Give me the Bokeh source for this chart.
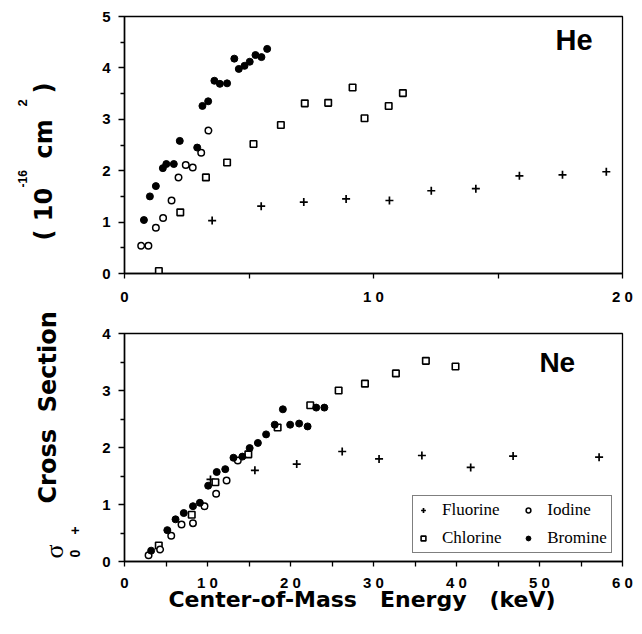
import math
from bokeh.plotting import figure
from bokeh.models import Range1d, FixedTicker, Legend, LegendItem, Label
from bokeh.layouts import row, column
from bokeh.embed import file_html
from bokeh.resources import INLINE
from bokeh.core.properties import value

# ---------------- data: He target ----------------
he_f_x = [3.52, 5.49, 7.20, 8.90, 10.64, 12.32, 14.11, 15.86, 17.59, 19.35]
he_f_y = [1.03, 1.31, 1.39, 1.45, 1.42, 1.61, 1.65, 1.90, 1.92, 1.98]
he_cl_x = [1.38, 2.24, 3.27, 4.12, 5.18, 6.28, 7.24, 8.18, 9.16, 9.64, 10.61, 11.18]
he_cl_y = [0.05, 1.19, 1.87, 2.16, 2.52, 2.89, 3.31, 3.32, 3.62, 3.02, 3.26, 3.51]
he_i_x = [0.67, 0.96, 1.26, 1.55, 1.89, 2.17, 2.46, 2.74, 3.08, 3.37]
he_i_y = [0.54, 0.54, 0.89, 1.08, 1.42, 1.87, 2.11, 2.06, 2.35, 2.78]
he_br_x = [0.78, 1.02, 1.26, 1.54, 1.68, 1.98, 2.22, 2.92, 3.13, 3.36, 3.61, 3.83,
           4.12, 4.41, 4.59, 4.82, 5.03, 5.26, 5.50, 5.73]
he_br_y = [1.04, 1.50, 1.70, 2.05, 2.13, 2.13, 2.58, 2.45, 3.26, 3.35, 3.75, 3.69,
           3.70, 4.18, 3.98, 4.04, 4.12, 4.25, 4.21, 4.37]

# ---------------- data: Ne target ----------------
ne_f_x = [10.36, 15.71, 20.75, 26.23, 30.67, 35.83, 41.71, 46.82, 57.18]
ne_f_y = [1.44, 1.60, 1.71, 1.93, 1.80, 1.86, 1.65, 1.85, 1.83]
ne_cl_x = [4.13, 8.10, 10.95, 14.92, 18.45, 22.38, 25.80, 28.97, 32.70, 36.31, 39.88]
ne_cl_y = [0.28, 0.82, 1.39, 1.88, 2.35, 2.74, 3.00, 3.12, 3.30, 3.52, 3.42]
ne_i_x = [2.90, 4.29, 5.63, 6.87, 8.25, 9.64, 11.04, 12.30, 13.65]
ne_i_y = [0.11, 0.21, 0.45, 0.65, 0.67, 0.97, 1.19, 1.42, 1.77]
ne_br_x = [3.21, 5.16, 6.15, 7.14, 8.25, 9.08, 10.08, 11.11, 12.14, 13.13, 14.20,
           15.08, 16.07, 17.06, 18.10, 19.08, 19.96, 21.04, 22.06, 23.10, 24.08]
ne_br_y = [0.19, 0.55, 0.74, 0.85, 0.97, 1.03, 1.33, 1.57, 1.62, 1.82, 1.84,
           1.99, 2.08, 2.23, 2.40, 2.67, 2.40, 2.42, 2.37, 2.70, 2.70]

he_xticks = [0, 10, 20]
he_xminor = [5, 15]
he_xlabels = {0: "0", 10: "1 0", 20: "2 0"}
he_yticks = [0, 1, 2, 3, 4, 5]
ne_xticks = [0, 10, 20, 30, 40, 50, 60]
ne_xminor = [5, 15, 25, 35, 45, 55]
ne_xlabels = {0: "0", 10: "1 0", 20: "2 0", 30: "3 0", 40: "4 0", 50: "5 0", 60: "6 0"}
ne_yticks = [0, 1, 2, 3, 4]

series_names = ["Fluorine", "Chlorine", "Iodine", "Bromine"]
x_title = "Center-of-Mass\u00a0\u00a0 Energy\u00a0\u00a0 (keV)"

SANS = "Liberation Sans"
WIDE = "DejaVu Sans"
SERIF = "Liberation Serif"

PAGE_W = 642
PAGE_H = 634
LABEL_W = 88
FRAME_L = 124


def style_axes(p, xticks, xminor, xlabels, yticks, ystep, x_standoff):
    p.xaxis.ticker = FixedTicker(ticks=xticks, minor_ticks=xminor)
    yminor = [t + ystep / 2 for t in yticks[:-1]]
    p.yaxis.ticker = FixedTicker(ticks=yticks, minor_ticks=yminor)
    p.xaxis.major_label_overrides = xlabels
    for ax in (p.xaxis, p.yaxis):
        ax.axis_line_color = "black"
        ax.axis_line_width = 1.5
        ax.major_tick_line_color = "black"
        ax.minor_tick_line_color = "black"
        ax.major_tick_line_width = 1.3
        ax.minor_tick_line_width = 1.3
        ax.major_tick_in = 0
        ax.minor_tick_in = 0
        ax.major_label_text_font = SANS
        ax.major_label_text_font_style = "bold"
        ax.major_label_text_font_size = "15px"
        ax.major_label_text_color = "black"
    p.xaxis.major_tick_out = 5
    p.xaxis.minor_tick_out = 5
    p.yaxis.major_tick_out = 6
    p.yaxis.minor_tick_out = 4
    p.xaxis.major_label_standoff = x_standoff
    p.yaxis.major_label_standoff = 8
    p.xgrid.visible = False
    p.ygrid.visible = False
    p.outline_line_color = "black"
    p.outline_line_width = 1.3
    p.outline_line_alpha = 1.0


def add_series(p, fx, fy, cx, cy, ix, iy, bx, by):
    r_f = p.scatter(fx, fy, marker="cross", size=8, line_color="black", line_width=1.7)
    r_c = p.scatter(cx, cy, marker="square", size=6.5, fill_color="white",
                    line_color="black", line_width=1.6)
    r_i = p.scatter(ix, iy, marker="circle", size=6.5, fill_color="white",
                    line_color="black", line_width=1.5)
    r_b = p.scatter(bx, by, marker="circle", size=7, fill_color="black",
                    line_color="black", line_width=1)
    return [r_f, r_c, r_i, r_b]


def blank(width, height, xr, yr):
    f = figure(width=width, height=height, x_range=Range1d(*xr), y_range=Range1d(*yr),
               output_backend="svg", toolbar_location=None,
               min_border_left=0, min_border_right=0, min_border_top=0, min_border_bottom=0)
    f.axis.visible = False
    f.xgrid.visible = False
    f.ygrid.visible = False
    f.outline_line_color = None
    return f


# ---------------- top panel (He) ----------------
p1 = figure(width=PAGE_W - LABEL_W, height=316, x_range=Range1d(0, 20), y_range=Range1d(0, 5),
            output_backend="svg", toolbar_location=None,
            min_border_left=FRAME_L - LABEL_W, min_border_right=20,
            min_border_top=16, min_border_bottom=43)
style_axes(p1, he_xticks, he_xminor, he_xlabels, he_yticks, 1, 9)
add_series(p1, he_f_x, he_f_y, he_cl_x, he_cl_y, he_i_x, he_i_y, he_br_x, he_br_y)
p1.add_layout(Label(x=18.8, y=4.55, text="He", text_align="right",
                    text_baseline="alphabetic", text_font=SANS,
                    text_font_style="bold", text_font_size="29px", text_color="black"))

# ---------------- bottom panel (Ne) ----------------
p2 = figure(width=PAGE_W - LABEL_W, height=PAGE_H - 316, x_range=Range1d(0, 60),
            y_range=Range1d(0, 4),
            output_backend="svg", toolbar_location=None,
            min_border_left=FRAME_L - LABEL_W, min_border_right=14,
            min_border_top=17, min_border_bottom=73)
style_axes(p2, ne_xticks, ne_xminor, ne_xlabels, ne_yticks, 1, 7)
rs = add_series(p2, ne_f_x, ne_f_y, ne_cl_x, ne_cl_y, ne_i_x, ne_i_y, ne_br_x, ne_br_y)
p2.add_layout(Label(x=54.3, y=3.50, text="Ne", text_align="right",
                    text_baseline="alphabetic", text_font=SANS,
                    text_font_style="bold", text_font_size="28px", text_color="black"))

# x-axis title; trailing no-break spaces shift the centred text slightly left,
# as in the original figure
p2.xaxis.axis_label = x_title + "\u00a0\u00a0\u00a0"
p2.xaxis.axis_label_text_font = WIDE
p2.xaxis.axis_label_text_font_style = "bold"
p2.xaxis.axis_label_text_font_size = "22px"
p2.xaxis.axis_label_text_color = "black"
p2.xaxis.axis_label_standoff = -7

legend = Legend(items=[LegendItem(label=series_names[0] + "   ", renderers=[rs[0]]),
                       LegendItem(label=series_names[1] + "   ", renderers=[rs[1]]),
                       LegendItem(label=series_names[2], renderers=[rs[2]]),
                       LegendItem(label=series_names[3], renderers=[rs[3]])],
                ncols=2, location=(288, 8), orientation="vertical",
                padding=4, spacing=8, glyph_width=12, glyph_height=20,
                label_height=20, label_standoff=13, margin=0,
                label_text_font=SERIF, label_text_font_size="17px",
                label_text_color="black", border_line_color="black",
                border_line_width=1.2, background_fill_alpha=1.0)
p2.add_layout(legend, "center")

# ---------------- left rotated y-axis title ----------------
pl = blank(LABEL_W, PAGE_H, (0, LABEL_W), (0, PAGE_H))
up = math.pi / 2
title_parts = [
    # text, x (baseline, page px), y (start, page px from top), size, font, style
    ("σ", 54, 558, "26px", SERIF, "normal"),
    ("0", 74, 557, "14px", SANS, "bold"),
    ("+", 74, 534, "14px", SANS, "bold"),
    ("Cross\u00a0 Section", 47, 503, "24px", WIDE, "bold"),
    ("( 10", 43, 240, "24px", WIDE, "bold"),
    ("-16", 22, 187, "12px", SANS, "bold"),
    ("cm", 43, 158, "24px", WIDE, "bold"),
    ("2", 22, 106, "13px", SANS, "bold"),
    (")", 43, 93, "24px", WIDE, "bold"),
]
for t, x, y, sz, fnt, st in title_parts:
    pl.text(x=[x], y=[PAGE_H - y], text=[t], angle=up, text_align="left",
            text_baseline="alphabetic", text_font=value(fnt), text_font_style=st,
            text_font_size=sz, text_color="black")

layout = row(pl, column(p1, p2))
open("out.html", "w").write(file_html(layout, INLINE))
